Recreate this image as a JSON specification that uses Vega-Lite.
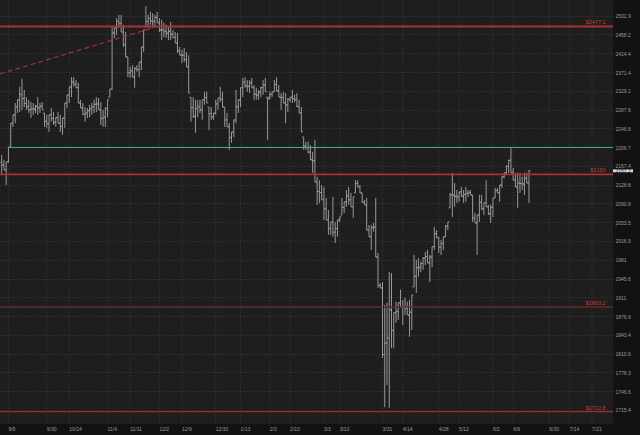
{
"$schema": "https://vega.github.io/schema/vega-lite/v6.json",
"width": 613, "height": 424,
"autosize": {"type": "none"},
"padding": {"left": 0, "top": 0, "right": 27, "bottom": 11},
"background": "#121212",
"config": {
  "view": {"fill": "#1e1e1e", "stroke": null},
  "axis": {"gridColor": "#3a3a3a", "gridDash": [1, 2], "gridWidth": 1, "domain": false, "ticks": false, "labelColor": "#9a9a9a", "labelFont": "Liberation Sans", "labelFontSize": 5, "title": null, "labelOverlap": false, "labelBound": false, "labelFlush": false}
},
"datasets": {
"bars": [
{"n":0,"o":2175,"h":2190,"l":2149,"c":2169},
{"n":1,"o":2169,"h":2180,"l":2159,"c":2159},
{"n":2,"o":2159,"h":2176,"l":2128,"c":2176},
{"n":3,"o":2176,"h":2207,"l":2174,"c":2207},
{"n":4,"o":2207,"h":2258,"l":2205,"c":2258},
{"n":5,"o":2258,"h":2276,"l":2250,"c":2276},
{"n":6,"o":2276,"h":2302,"l":2258,"c":2294},
{"n":7,"o":2294,"h":2309,"l":2280,"c":2309},
{"n":8,"o":2309,"h":2338,"l":2282,"c":2321},
{"n":9,"o":2321,"h":2356,"l":2287,"c":2312},
{"n":10,"o":2312,"h":2331,"l":2293,"c":2301},
{"n":11,"o":2301,"h":2315,"l":2287,"c":2294},
{"n":12,"o":2294,"h":2309,"l":2280,"c":2287},
{"n":13,"o":2287,"h":2304,"l":2269,"c":2289},
{"n":14,"o":2289,"h":2302,"l":2276,"c":2289},
{"n":15,"o":2289,"h":2298,"l":2280,"c":2295},
{"n":16,"o":2295,"h":2315,"l":2276,"c":2291},
{"n":17,"o":2291,"h":2302,"l":2280,"c":2295},
{"n":18,"o":2295,"h":2304,"l":2287,"c":2287},
{"n":19,"o":2280,"h":2280,"l":2250,"c":2262},
{"n":20,"o":2262,"h":2276,"l":2248,"c":2257},
{"n":21,"o":2257,"h":2276,"l":2239,"c":2276},
{"n":22,"o":2276,"h":2291,"l":2261,"c":2268},
{"n":23,"o":2268,"h":2282,"l":2254,"c":2260},
{"n":24,"o":2260,"h":2271,"l":2250,"c":2270},
{"n":25,"o":2270,"h":2282,"l":2258,"c":2258},
{"n":26,"o":2258,"h":2276,"l":2239,"c":2251},
{"n":27,"o":2251,"h":2269,"l":2233,"c":2269},
{"n":28,"o":2269,"h":2302,"l":2248,"c":2302},
{"n":29,"o":2302,"h":2320,"l":2291,"c":2320},
{"n":30,"o":2320,"h":2338,"l":2302,"c":2338},
{"n":31,"o":2338,"h":2360,"l":2315,"c":2349},
{"n":32,"o":2349,"h":2360,"l":2338,"c":2344},
{"n":33,"o":2344,"h":2353,"l":2336,"c":2336},
{"n":34,"o":2336,"h":2347,"l":2302,"c":2302},
{"n":35,"o":2302,"h":2309,"l":2291,"c":2291},
{"n":36,"o":2291,"h":2302,"l":2276,"c":2277},
{"n":37,"o":2277,"h":2293,"l":2261,"c":2280},
{"n":38,"o":2280,"h":2291,"l":2269,"c":2285},
{"n":39,"o":2285,"h":2298,"l":2271,"c":2289},
{"n":40,"o":2289,"h":2302,"l":2276,"c":2294},
{"n":41,"o":2294,"h":2309,"l":2280,"c":2299},
{"n":42,"o":2299,"h":2315,"l":2282,"c":2300},
{"n":43,"o":2300,"h":2313,"l":2287,"c":2287},
{"n":44,"o":2287,"h":2304,"l":2254,"c":2268},
{"n":45,"o":2268,"h":2287,"l":2250,"c":2271},
{"n":46,"o":2271,"h":2293,"l":2250,"c":2290},
{"n":47,"o":2290,"h":2309,"l":2271,"c":2309},
{"n":48,"o":2315,"h":2333,"l":2315,"c":2333},
{"n":49,"o":2333,"h":2476,"l":2331,"c":2462},
{"n":50,"o":2462,"h":2474,"l":2450,"c":2474},
{"n":51,"o":2474,"h":2497,"l":2457,"c":2489},
{"n":52,"o":2489,"h":2505,"l":2474,"c":2484},
{"n":53,"o":2484,"h":2505,"l":2464,"c":2464},
{"n":54,"o":2464,"h":2481,"l":2429,"c":2435},
{"n":55,"o":2435,"h":2464,"l":2406,"c":2406},
{"n":56,"o":2406,"h":2406,"l":2360,"c":2370},
{"n":57,"o":2370,"h":2383,"l":2358,"c":2374},
{"n":58,"o":2374,"h":2387,"l":2360,"c":2360},
{"n":59,"o":2360,"h":2383,"l":2336,"c":2379},
{"n":60,"o":2379,"h":2387,"l":2372,"c":2377},
{"n":61,"o":2377,"h":2394,"l":2360,"c":2394},
{"n":62,"o":2394,"h":2429,"l":2376,"c":2429},
{"n":63,"o":2429,"h":2469,"l":2417,"c":2469},
{"n":64,"o":2476,"h":2526,"l":2476,"c":2489},
{"n":65,"o":2489,"h":2505,"l":2474,"c":2496},
{"n":66,"o":2496,"h":2512,"l":2481,"c":2491},
{"n":67,"o":2491,"h":2509,"l":2474,"c":2489},
{"n":68,"o":2489,"h":2505,"l":2474,"c":2499},
{"n":69,"o":2499,"h":2512,"l":2486,"c":2486},
{"n":70,"o":2486,"h":2497,"l":2464,"c":2469},
{"n":71,"o":2469,"h":2493,"l":2445,"c":2469},
{"n":72,"o":2469,"h":2486,"l":2452,"c":2465},
{"n":73,"o":2465,"h":2481,"l":2450,"c":2461},
{"n":74,"o":2461,"h":2476,"l":2445,"c":2466},
{"n":75,"o":2466,"h":2488,"l":2445,"c":2459},
{"n":76,"o":2459,"h":2469,"l":2450,"c":2451},
{"n":77,"o":2451,"h":2464,"l":2438,"c":2438},
{"n":78,"o":2438,"h":2462,"l":2415,"c":2420},
{"n":79,"o":2420,"h":2429,"l":2410,"c":2410},
{"n":80,"o":2410,"h":2422,"l":2392,"c":2410},
{"n":81,"o":2410,"h":2427,"l":2394,"c":2400},
{"n":82,"o":2400,"h":2417,"l":2383,"c":2383},
{"n":83,"o":2383,"h":2410,"l":2324,"c":2324},
{"n":84,"o":2315,"h":2315,"l":2261,"c":2292},
{"n":85,"o":2292,"h":2315,"l":2269,"c":2273},
{"n":86,"o":2273,"h":2309,"l":2237,"c":2290},
{"n":87,"o":2290,"h":2309,"l":2271,"c":2294},
{"n":88,"o":2294,"h":2309,"l":2280,"c":2287},
{"n":89,"o":2287,"h":2309,"l":2265,"c":2309},
{"n":90,"o":2309,"h":2327,"l":2298,"c":2314},
{"n":91,"o":2314,"h":2327,"l":2302,"c":2302},
{"n":92,"o":2293,"h":2293,"l":2243,"c":2279},
{"n":93,"o":2279,"h":2293,"l":2265,"c":2272},
{"n":94,"o":2272,"h":2280,"l":2265,"c":2280},
{"n":95,"o":2280,"h":2309,"l":2276,"c":2300},
{"n":96,"o":2300,"h":2313,"l":2287,"c":2313},
{"n":97,"o":2313,"h":2338,"l":2304,"c":2310},
{"n":98,"o":2310,"h":2327,"l":2293,"c":2293},
{"n":99,"o":2293,"h":2293,"l":2250,"c":2265},
{"n":100,"o":2265,"h":2280,"l":2250,"c":2250},
{"n":101,"o":2250,"h":2258,"l":2201,"c":2227},
{"n":102,"o":2227,"h":2239,"l":2216,"c":2239},
{"n":103,"o":2239,"h":2265,"l":2228,"c":2265},
{"n":104,"o":2265,"h":2331,"l":2258,"c":2294},
{"n":105,"o":2294,"h":2309,"l":2280,"c":2309},
{"n":106,"o":2309,"h":2336,"l":2293,"c":2336},
{"n":107,"o":2336,"h":2358,"l":2315,"c":2348},
{"n":108,"o":2348,"h":2360,"l":2336,"c":2340},
{"n":109,"o":2340,"h":2353,"l":2327,"c":2339},
{"n":110,"o":2339,"h":2353,"l":2324,"c":2347},
{"n":111,"o":2347,"h":2358,"l":2336,"c":2336},
{"n":112,"o":2336,"h":2342,"l":2309,"c":2322},
{"n":113,"o":2322,"h":2336,"l":2309,"c":2320},
{"n":114,"o":2320,"h":2331,"l":2309,"c":2326},
{"n":115,"o":2326,"h":2338,"l":2315,"c":2336},
{"n":116,"o":2336,"h":2353,"l":2320,"c":2342},
{"n":117,"o":2342,"h":2358,"l":2327,"c":2327},
{"n":118,"o":2315,"h":2315,"l":2222,"c":2312},
{"n":119,"o":2315,"h":2327,"l":2309,"c":2321},
{"n":120,"o":2321,"h":2327,"l":2315,"c":2327},
{"n":121,"o":2327,"h":2353,"l":2327,"c":2343},
{"n":122,"o":2343,"h":2360,"l":2327,"c":2329},
{"n":123,"o":2329,"h":2342,"l":2315,"c":2315},
{"n":124,"o":2315,"h":2324,"l":2287,"c":2314},
{"n":125,"o":2314,"h":2327,"l":2302,"c":2302},
{"n":126,"o":2302,"h":2324,"l":2258,"c":2298},
{"n":127,"o":2298,"h":2313,"l":2282,"c":2310},
{"n":128,"o":2310,"h":2315,"l":2304,"c":2315},
{"n":129,"o":2315,"h":2331,"l":2302,"c":2312},
{"n":130,"o":2312,"h":2320,"l":2304,"c":2309},
{"n":131,"o":2309,"h":2324,"l":2293,"c":2294},
{"n":132,"o":2294,"h":2309,"l":2280,"c":2280},
{"n":133,"o":2280,"h":2293,"l":2239,"c":2239},
{"n":134,"o":2228,"h":2228,"l":2201,"c":2209},
{"n":135,"o":2209,"h":2218,"l":2201,"c":2206},
{"n":136,"o":2206,"h":2218,"l":2194,"c":2196},
{"n":137,"o":2196,"h":2211,"l":2180,"c":2180},
{"n":138,"o":2180,"h":2197,"l":2153,"c":2178},
{"n":139,"o":2178,"h":2222,"l":2134,"c":2134},
{"n":140,"o":2134,"h":2145,"l":2088,"c":2115},
{"n":141,"o":2115,"h":2138,"l":2092,"c":2113},
{"n":142,"o":2113,"h":2128,"l":2098,"c":2098},
{"n":143,"o":2098,"h":2124,"l":2058,"c":2080},
{"n":144,"o":2080,"h":2102,"l":2058,"c":2058},
{"n":145,"o":2058,"h":2078,"l":2029,"c":2041},
{"n":146,"o":2041,"h":2054,"l":2029,"c":2054},
{"n":147,"o":2054,"h":2104,"l":2025,"c":2034},
{"n":148,"o":2034,"h":2054,"l":2013,"c":2041},
{"n":149,"o":2041,"h":2058,"l":2025,"c":2058},
{"n":150,"o":2058,"h":2064,"l":2054,"c":2064},
{"n":151,"o":2068,"h":2102,"l":2068,"c":2083},
{"n":152,"o":2083,"h":2094,"l":2072,"c":2094},
{"n":153,"o":2094,"h":2118,"l":2084,"c":2106},
{"n":154,"o":2106,"h":2124,"l":2088,"c":2098},
{"n":155,"o":2098,"h":2112,"l":2084,"c":2084},
{"n":156,"o":2084,"h":2104,"l":2062,"c":2104},
{"n":157,"o":2112,"h":2138,"l":2112,"c":2131},
{"n":158,"o":2131,"h":2138,"l":2124,"c":2124},
{"n":159,"o":2124,"h":2128,"l":2112,"c":2112},
{"n":160,"o":2112,"h":2112,"l":2092,"c":2093},
{"n":161,"o":2093,"h":2098,"l":2088,"c":2088},
{"n":162,"o":2088,"h":2102,"l":2038,"c":2038},
{"n":163,"o":2038,"h":2048,"l":2025,"c":2025},
{"n":164,"o":2025,"h":2048,"l":2000,"c":2043},
{"n":165,"o":2043,"h":2052,"l":2035,"c":2044},
{"n":166,"o":2044,"h":2102,"l":1986,"c":1986},
{"n":167,"o":1986,"h":1994,"l":1928,"c":1933},
{"n":168,"o":1933,"h":1937,"l":1928,"c":1928},
{"n":169,"o":1928,"h":1939,"l":1803,"c":1809},
{"n":170,"o":1809,"h":1897,"l":1720,"c":1829},
{"n":171,"o":1829,"h":1901,"l":1757,"c":1838},
{"n":172,"o":1838,"h":1958,"l":1719,"c":1888},
{"n":173,"o":1888,"h":1956,"l":1820,"c":1851},
{"n":174,"o":1851,"h":1883,"l":1820,"c":1883},
{"n":175,"o":1883,"h":1903,"l":1865,"c":1885},
{"n":176,"o":1885,"h":1901,"l":1870,"c":1901},
{"n":177,"o":1901,"h":1925,"l":1893,"c":1893},
{"n":178,"o":1893,"h":1906,"l":1861,"c":1894},
{"n":179,"o":1894,"h":1910,"l":1879,"c":1891},
{"n":180,"o":1891,"h":1903,"l":1879,"c":1879},
{"n":181,"o":1879,"h":1906,"l":1840,"c":1884},
{"n":182,"o":1884,"h":1915,"l":1852,"c":1915},
{"n":183,"o":1930,"h":1990,"l":1930,"c":1950},
{"n":184,"o":1950,"h":1981,"l":1919,"c":1966},
{"n":185,"o":1966,"h":1984,"l":1949,"c":1967},
{"n":186,"o":1967,"h":1977,"l":1958,"c":1974},
{"n":187,"o":1974,"h":1986,"l":1962,"c":1984},
{"n":188,"o":1984,"h":1996,"l":1971,"c":1987},
{"n":189,"o":1987,"h":2000,"l":1975,"c":1975},
{"n":190,"o":1975,"h":1990,"l":1939,"c":1986},
{"n":191,"o":1986,"h":2006,"l":1967,"c":2006},
{"n":192,"o":2006,"h":2044,"l":2000,"c":2031},
{"n":193,"o":2031,"h":2038,"l":2023,"c":2023},
{"n":194,"o":2023,"h":2025,"l":1994,"c":2005},
{"n":195,"o":2005,"h":2019,"l":1990,"c":2012},
{"n":196,"o":2012,"h":2025,"l":2000,"c":2025},
{"n":197,"o":2025,"h":2048,"l":2025,"c":2046},
{"n":198,"o":2046,"h":2054,"l":2038,"c":2054},
{"n":199,"o":2082,"h":2112,"l":2082,"c":2108},
{"n":200,"o":2108,"h":2153,"l":2064,"c":2108},
{"n":201,"o":2108,"h":2132,"l":2084,"c":2105},
{"n":202,"o":2105,"h":2118,"l":2092,"c":2104},
{"n":203,"o":2104,"h":2114,"l":2094,"c":2114},
{"n":204,"o":2114,"h":2124,"l":2104,"c":2105},
{"n":205,"o":2105,"h":2118,"l":2092,"c":2109},
{"n":206,"o":2109,"h":2124,"l":2094,"c":2111},
{"n":207,"o":2111,"h":2118,"l":2104,"c":2113},
{"n":208,"o":2113,"h":2118,"l":2108,"c":2108},
{"n":209,"o":2108,"h":2108,"l":2054,"c":2062},
{"n":210,"o":2062,"h":2072,"l":2052,"c":2052},
{"n":211,"o":2052,"h":2068,"l":1990,"c":2068},
{"n":212,"o":2068,"h":2108,"l":2054,"c":2093},
{"n":213,"o":2093,"h":2108,"l":2078,"c":2080},
{"n":214,"o":2080,"h":2092,"l":2068,"c":2092},
{"n":215,"o":2092,"h":2138,"l":2084,"c":2084},
{"n":216,"o":2084,"h":2088,"l":2068,"c":2070},
{"n":217,"o":2070,"h":2088,"l":2052,"c":2083},
{"n":218,"o":2083,"h":2102,"l":2064,"c":2102},
{"n":219,"o":2102,"h":2122,"l":2102,"c":2117},
{"n":220,"o":2117,"h":2122,"l":2112,"c":2112},
{"n":221,"o":2112,"h":2128,"l":2094,"c":2128},
{"n":222,"o":2128,"h":2145,"l":2122,"c":2145},
{"n":223,"o":2145,"h":2153,"l":2142,"c":2153},
{"n":224,"o":2153,"h":2169,"l":2149,"c":2166},
{"n":225,"o":2166,"h":2180,"l":2153,"c":2179},
{"n":226,"o":2179,"h":2205,"l":2153,"c":2153},
{"n":227,"o":2153,"h":2163,"l":2138,"c":2138},
{"n":228,"o":2138,"h":2153,"l":2124,"c":2124},
{"n":229,"o":2124,"h":2153,"l":2082,"c":2132},
{"n":230,"o":2132,"h":2153,"l":2112,"c":2131},
{"n":231,"o":2131,"h":2145,"l":2118,"c":2130},
{"n":232,"o":2130,"h":2153,"l":2108,"c":2142},
{"n":233,"o":2142,"h":2153,"l":2132,"c":2132},
{"n":234,"o":2132,"h":2159,"l":2092,"c":2157.2}
],
"xticks": [
{"n":3,"label":"9/9"},{"n":20,"label":"9/30"},{"n":30,"label":"10/14"},{"n":47,"label":"11/4"},
{"n":57,"label":"11/11"},{"n":70,"label":"12/2"},{"n":80,"label":"12/9"},{"n":95,"label":"12/30"},
{"n":106,"label":"1/13"},{"n":119,"label":"2/3"},{"n":128,"label":"2/10"},{"n":143,"label":"3/3"},
{"n":150,"label":"3/10"},{"n":169,"label":"3/31"},{"n":178,"label":"4/14"},{"n":194,"label":"4/28"},
{"n":203,"label":"5/12"},{"n":218,"label":"6/2"},{"n":227,"label":"6/9"},{"n":243,"label":"6/30"},
{"n":252,"label":"7/14"},{"n":262,"label":"7/21"}
],
"levels": [
{"name":"$2477.1","p":2477.1},
{"name":"$2150","p":2150},
{"name":"$1893.2","p":1893.2},
{"name":"$1712.8","p":1712.8}
],
"support": [{"p":2206,"from":4,"to":271.3}],
"trend": [{"n":-0.75,"p":2367},{"n":66,"p":2472}]
},
"layer": [
{
  "data": {"name": "xticks"},
  "mark": {"type": "rule", "color": "#3a3a3a", "strokeWidth": 1, "strokeDash": [1, 2]},
  "encoding": {
    "x": {"field": "n", "type": "quantitative",
      "scale": {"domain": [-0.75, 271.3], "nice": false, "zero": false},
      "axis": null}
  }
},
{
  "data": {"name": "bars"},
  "mark": {"type": "rule", "color": "#999999", "strokeWidth": 1},
  "encoding": {
    "x": {"field": "n", "type": "quantitative"},
    "y": {"field": "l", "type": "quantitative",
      "scale": {"type": "log", "domain": [1692.5, 2540.8], "nice": false},
      "axis": {"orient": "right", "grid": true, "labelOverlap": false, "labelBound": false, "labelFlush": false,
        "values": [2502.9,2458.2,2414.4,2371.4,2329.1,2287.6,2246.8,2206.7,2167.4,2128.8,2090.8,2053.5,2016.9,1981,1945.6,1911,1876.9,1843.4,1810.6,1778.3,1746.6,1715.4],
        "format": ".1~f", "labelAlign": "left", "labelBaseline": "middle", "labelPadding": 2}},
    "y2": {"field": "h"}
  }
},
{
  "data": {"name": "bars"},
  "mark": {"type": "tick", "orient": "horizontal", "size": 1.5, "thickness": 1, "xOffset": -0.8, "color": "#999999", "opacity": 1},
  "encoding": {"x": {"field": "n", "type": "quantitative"}, "y": {"field": "o", "type": "quantitative"}}
},
{
  "data": {"name": "bars"},
  "mark": {"type": "tick", "orient": "horizontal", "size": 1.5, "thickness": 1, "xOffset": 0.8, "color": "#999999", "opacity": 1},
  "encoding": {"x": {"field": "n", "type": "quantitative"}, "y": {"field": "c", "type": "quantitative"}}
},
{
  "data": {"name": "levels"},
  "mark": {"type": "rule"},
  "encoding": {
    "y": {"field": "p", "type": "quantitative"},
    "color": {"field": "name", "type": "nominal", "legend": null,
      "scale": {"domain": ["$2477.1","$2150","$1893.2","$1712.8"], "range": ["#a83232","#b02e2e","#6a2828","#9a2c2c"]}},
    "strokeWidth": {"field": "name", "type": "nominal", "legend": null,
      "scale": {"domain": ["$2477.1","$2150","$1893.2","$1712.8"], "range": [2, 1.2, 1.6, 1]}}
  }
},
{
  "data": {"name": "support"},
  "mark": {"type": "rule", "color": "#45b383", "strokeWidth": 1},
  "encoding": {
    "x": {"field": "from", "type": "quantitative"},
    "x2": {"field": "to"},
    "y": {"field": "p", "type": "quantitative"}
  }
},
{
  "data": {"name": "trend"},
  "mark": {"type": "line", "color": "#a83232", "strokeWidth": 1.2, "strokeDash": [5, 3]},
  "encoding": {
    "x": {"field": "n", "type": "quantitative"},
    "y": {"field": "p", "type": "quantitative"}
  }
},
{
  "data": {"name": "levels"},
  "mark": {"type": "text", "align": "right", "baseline": "bottom", "dy": -1, "font": "Liberation Sans", "fontSize": 5.5, "color": "#c43c3c"},
  "encoding": {
    "x": {"datum": 268},
    "y": {"field": "p", "type": "quantitative"},
    "text": {"field": "name"}
  }
},
{
  "data": {"name": "xticks"},
  "mark": {"type": "text", "align": "left", "baseline": "top", "dy": 3, "font": "Liberation Sans", "fontSize": 5, "color": "#9a9a9a"},
  "encoding": {
    "x": {"field": "n", "type": "quantitative"},
    "y": {"datum": 1692.5},
    "text": {"field": "label"}
  }
},
{
  "data": {"name": "bars"},
  "transform": [{"filter": "datum.n == 234"}],
  "mark": {"type": "point", "shape": "M-1,-0.15L1,-0.15L1,0.15L-1,0.15Z", "size": 400, "filled": true, "color": "#d6d6d6", "opacity": 1},
  "encoding": {
    "x": {"datum": 275.75},
    "y": {"field": "c", "type": "quantitative"}
  }
},
{
  "data": {"name": "bars"},
  "transform": [{"filter": "datum.n == 234"}],
  "mark": {"type": "text", "align": "center", "baseline": "middle", "font": "Liberation Sans", "fontSize": 5, "color": "#1a1a1a"},
  "encoding": {
    "x": {"datum": 275.75},
    "y": {"field": "c", "type": "quantitative"},
    "text": {"field": "c", "type": "quantitative", "format": ".1f"}
  }
}
]
}
